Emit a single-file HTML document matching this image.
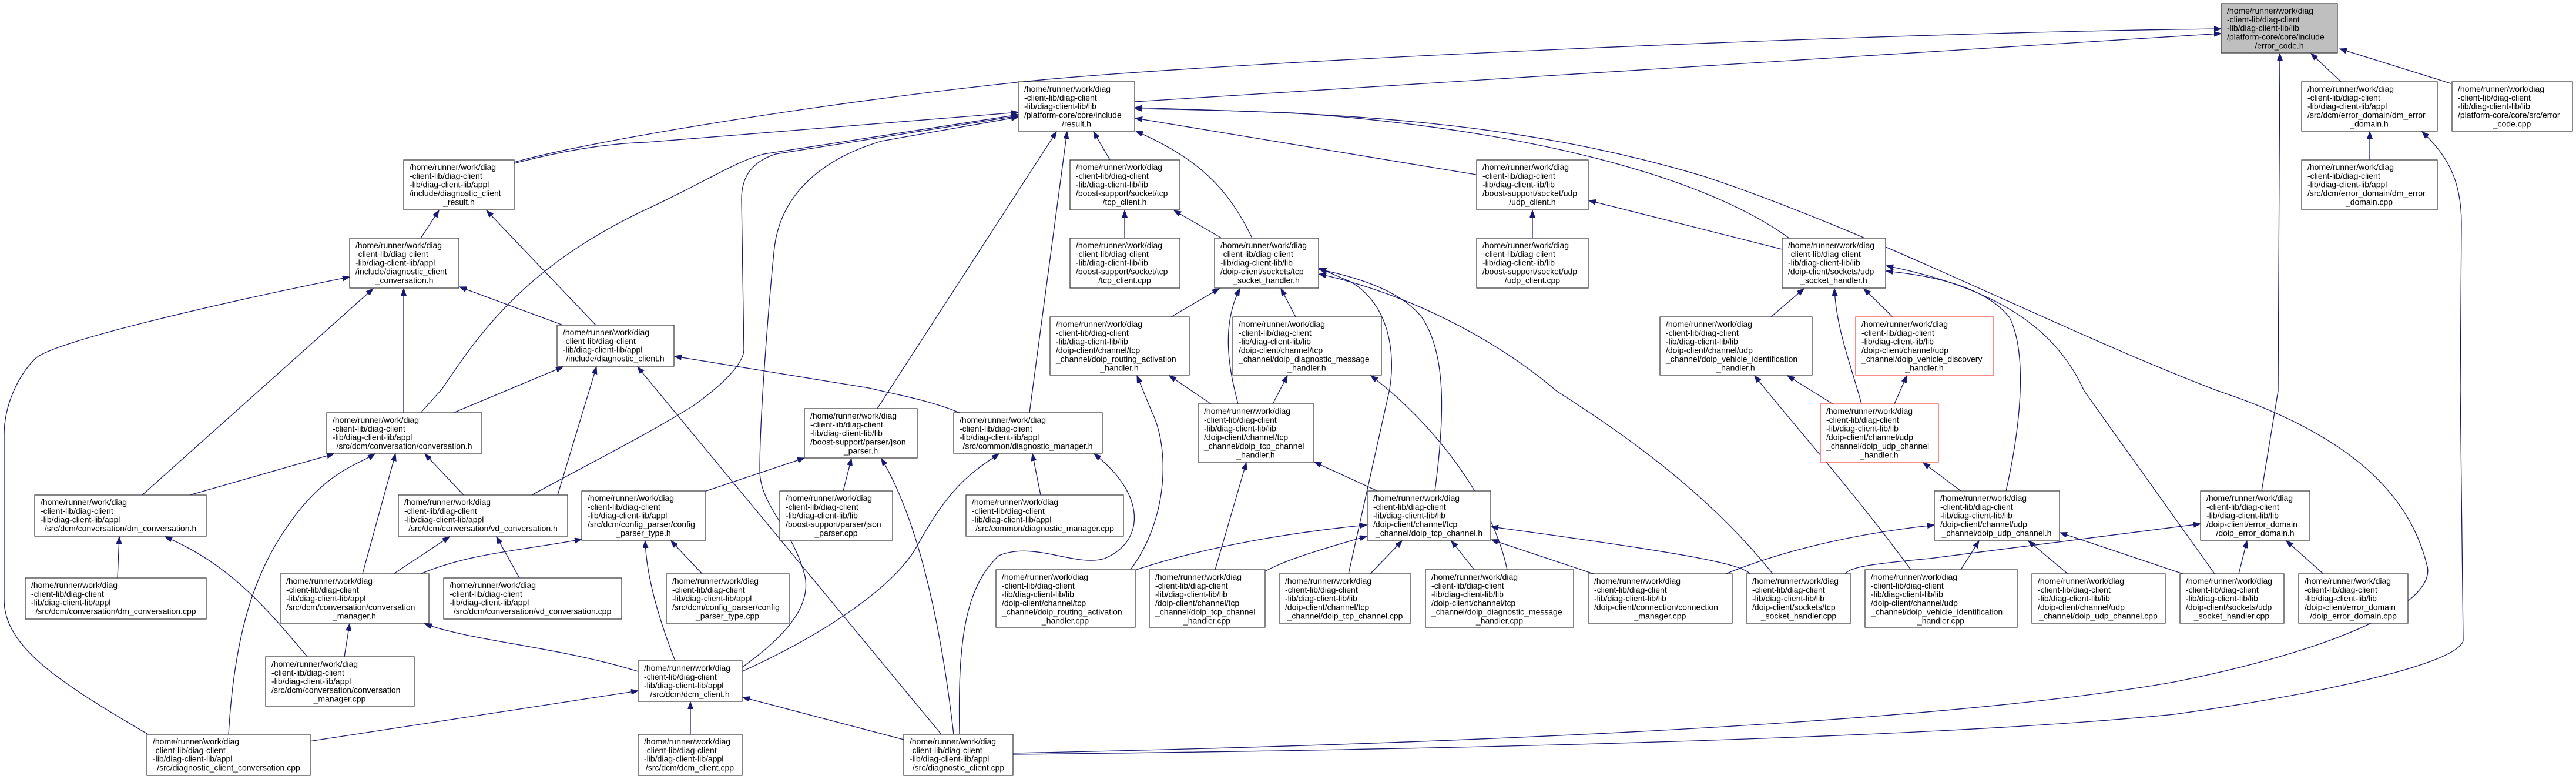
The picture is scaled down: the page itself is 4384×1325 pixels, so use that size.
<!DOCTYPE html>
<html><head><meta charset="utf-8"><style>
html,body{margin:0;padding:0;background:#fff;}
svg{display:block;}
text{font-family:"Liberation Sans",Arial,sans-serif;font-size:14px;fill:#000;}
rect{fill:#fff;stroke:#333;stroke-width:1.2;}
rect.red{stroke:#ff3c3c;}
rect.gray{fill:#bfbfbf;stroke:#333;}
path{fill:none;stroke:#191970;stroke-width:1.3;}
</style></head><body>
<svg width="4384" height="1325" viewBox="0 0 4384 1325" xmlns="http://www.w3.org/2000/svg">
<defs><marker id="a" markerUnits="userSpaceOnUse" markerWidth="13" markerHeight="10" refX="12" refY="4.5" orient="auto"><path d="M0,0 L12,4.5 L0,9 z" style="fill:#191970;stroke:#191970;stroke-width:1"/></marker></defs>
<g marker-end="url(#a)">
<path d="M1931,173 L3780,57"/>
<path d="M875,276 C1000,240 1400,175 1731,140 S3200,55 3780,49"/>
<path d="M3984,139 L3933,91"/>
<path d="M4171,142 L3982,83"/>
<path d="M3849,835 L3877,665 L3880,91"/>
<path d="M875,278 Q1000,245 1100,242 L1733,191"/>
<path d="M716,405 L747,358"/>
<path d="M1014,553 L828,358"/>
<path d="M958,553 L782,488"/>
<path d="M687,702 L687,491"/>
<path d="M242,842 L635,491"/>
<path d="M252,1249 C100,1160 7,1100 7,1020 L7,740 C7,690 30,640 60,610 S400,510 595,471"/>
<path d="M716,702 L752,662 C820,560 900,450 1100,356 C1200,310 1250,275 1300,262 L1733,195"/>
<path d="M905,842 C1000,790 1100,740 1180,690 C1250,640 1266,610 1266,594 L1262,339 C1262,300 1280,275 1320,262 L1733,197"/>
<path d="M1263,1135 C1340,1080 1380,1030 1370,980 C1350,900 1293,860 1293,800 C1293,700 1310,500 1317,430 C1325,330 1400,270 1500,240 L1733,199"/>
<path d="M1493,695 L1798,224"/>
<path d="M1752,702 L1816,224"/>
<path d="M1889,272 L1861,224"/>
<path d="M2131,405 C2090,320 2040,270 1933,223"/>
<path d="M2512,297 L1932,201"/>
<path d="M3045,405 C2900,300 2600,220 2200,192 L1932,183"/>
<path d="M1724,1281 C2500,1265 3300,1230 3700,1160 C4000,1100 4150,1020 4130,960 C4100,840 4000,740 3775,665 C3500,560 3200,400 2900,300 C2600,210 2300,190 1932,185"/>
<path d="M1724,1283 C2500,1275 3300,1255 3700,1215 C3950,1180 4180,1130 4192,1090 L4187,660 L4189,380 C4189,300 4160,260 4122,224"/>
<path d="M4033,272 L4033,224"/>
<path d="M1914,405 L1914,358"/>
<path d="M2079,405 L1998,358"/>
<path d="M2608,405 L2608,358"/>
<path d="M3033,424 L2704,341"/>
<path d="M1993,539 L2075,491"/>
<path d="M2107,687 C2095,640 2075,560 2110,491"/>
<path d="M2205,539 L2180,491"/>
<path d="M2442,835 C2460,700 2460,600 2420,540 C2380,490 2300,470 2245,458"/>
<path d="M2295,976 L2365,662 C2375,600 2365,520 2300,480 L2245,456"/>
<path d="M3017,976 C2900,830 2750,730 2649,665 C2550,580 2400,500 2245,466"/>
<path d="M1924,969 C1990,880 1990,760 1960,700 L1935,639"/>
<path d="M2061,687 L1990,639"/>
<path d="M2166,687 L2191,639"/>
<path d="M2565,969 C2540,850 2440,720 2333,639"/>
<path d="M2068,969 L2121,787"/>
<path d="M2344,835 L2237,786"/>
<path d="M1931,970 C2050,930 2200,905 2326,893"/>
<path d="M2152,972 C2180,958 2200,948 2326,912"/>
<path d="M2332,976 L2386,920"/>
<path d="M2509,969 L2470,920"/>
<path d="M2712,976 L2538,918"/>
<path d="M2979,976 C2960,960 2900,945 2538,896"/>
<path d="M3337,835 L3273,787"/>
<path d="M3119,687 L3042,639"/>
<path d="M3168,687 C3150,620 3125,560 3122,491"/>
<path d="M3224,687 L3245,639"/>
<path d="M3014,539 L3070,491"/>
<path d="M3252,969 C3150,830 3050,720 2986,639"/>
<path d="M3221,539 L3172,491"/>
<path d="M3414,835 C3440,720 3450,600 3420,540 C3380,490 3300,470 3210,461"/>
<path d="M3769,976 L3547,665 C3500,560 3400,490 3210,452"/>
<path d="M3337,969 L3368,920"/>
<path d="M3519,976 L3452,920"/>
<path d="M3715,976 L3506,906"/>
<path d="M2937,976 C3050,930 3180,905 3292,893"/>
<path d="M3140,976 C3150,965 3175,960 3284,950 L3745,891"/>
<path d="M3810,976 L3824,920"/>
<path d="M3954,976 L3891,920"/>
<path d="M200,983 L203,913"/>
<path d="M523,1117 C450,1030 390,960 281,913"/>
<path d="M323,842 L568,772"/>
<path d="M617,976 L673,772"/>
<path d="M789,842 L723,772"/>
<path d="M389,1249 C400,1060 440,960 500,880 C560,800 610,790 638,772"/>
<path d="M670,976 L765,913"/>
<path d="M884,983 L845,913"/>
<path d="M716,976 C800,940 900,935 990,917"/>
<path d="M1195,976 L1142,920"/>
<path d="M1149,1124 C1120,1050 1100,980 1098,920"/>
<path d="M1202,835 L1369,779"/>
<path d="M1435,835 L1449,780"/>
<path d="M1623,1249 C1600,1050 1560,880 1500,780"/>
<path d="M586,1117 L595,1061"/>
<path d="M1086,1142 C950,1100 800,1090 723,1061"/>
<path d="M1175,1249 L1175,1194"/>
<path d="M526,1261 L1086,1175"/>
<path d="M1538,1258 L1264,1186"/>
<path d="M1771,842 L1757,772"/>
<path d="M1263,1142 C1400,1080 1520,1000 1560,930 C1620,820 1660,800 1700,772"/>
<path d="M1633,1249 C1630,1100 1640,1000 1700,945 C1760,920 1830,965 1880,950 C1950,920 1950,840 1862,772"/>
<path d="M1602,1249 L1085,624"/>
<path d="M1633,702 C1580,680 1520,670 1479,660 L1148,606"/>
<path d="M949,842 L1015,624"/>
<path d="M772,702 L958,624"/>
</g>

<g>
<rect class="gray" x="3780" y="6" width="198" height="84"/><text x="3790" y="23"><tspan x="3790">/home/runner/work/diag</tspan><tspan x="3790" dy="14.85">-client-lib/diag-client</tspan><tspan x="3790" dy="14.85">-lib/diag-client-lib/lib</tspan><tspan x="3790" dy="14.85">/platform-core/core/include</tspan><tspan x="3879" dy="14.85" text-anchor="middle">/error_code.h</tspan></text>
<rect x="1733" y="139" width="198" height="84"/><text x="1743" y="156"><tspan x="1743">/home/runner/work/diag</tspan><tspan x="1743" dy="14.85">-client-lib/diag-client</tspan><tspan x="1743" dy="14.85">-lib/diag-client-lib/lib</tspan><tspan x="1743" dy="14.85">/platform-core/core/include</tspan><tspan x="1832" dy="14.85" text-anchor="middle">/result.h</tspan></text>
<rect x="3917" y="139" width="231" height="84"/><text x="3927" y="156"><tspan x="3927">/home/runner/work/diag</tspan><tspan x="3927" dy="14.85">-client-lib/diag-client</tspan><tspan x="3927" dy="14.85">-lib/diag-client-lib/appl</tspan><tspan x="3927" dy="14.85">/src/dcm/error_domain/dm_error</tspan><tspan x="4032" dy="14.85" text-anchor="middle">_domain.h</tspan></text>
<rect x="4173" y="139" width="205" height="84"/><text x="4183" y="156"><tspan x="4183">/home/runner/work/diag</tspan><tspan x="4183" dy="14.85">-client-lib/diag-client</tspan><tspan x="4183" dy="14.85">-lib/diag-client-lib/lib</tspan><tspan x="4183" dy="14.85">/platform-core/core/src/error</tspan><tspan x="4275" dy="14.85" text-anchor="middle">_code.cpp</tspan></text>
<rect x="687" y="272" width="188" height="85"/><text x="697" y="289"><tspan x="697">/home/runner/work/diag</tspan><tspan x="697" dy="14.85">-client-lib/diag-client</tspan><tspan x="697" dy="14.85">-lib/diag-client-lib/appl</tspan><tspan x="697" dy="14.85">/include/diagnostic_client</tspan><tspan x="781" dy="14.85" text-anchor="middle">_result.h</tspan></text>
<rect x="1821" y="272" width="187" height="85"/><text x="1831" y="289"><tspan x="1831">/home/runner/work/diag</tspan><tspan x="1831" dy="14.85">-client-lib/diag-client</tspan><tspan x="1831" dy="14.85">-lib/diag-client-lib/lib</tspan><tspan x="1831" dy="14.85">/boost-support/socket/tcp</tspan><tspan x="1914" dy="14.85" text-anchor="middle">/tcp_client.h</tspan></text>
<rect x="2513" y="272" width="190" height="85"/><text x="2523" y="289"><tspan x="2523">/home/runner/work/diag</tspan><tspan x="2523" dy="14.85">-client-lib/diag-client</tspan><tspan x="2523" dy="14.85">-lib/diag-client-lib/lib</tspan><tspan x="2523" dy="14.85">/boost-support/socket/udp</tspan><tspan x="2608" dy="14.85" text-anchor="middle">/udp_client.h</tspan></text>
<rect x="3917" y="272" width="231" height="85"/><text x="3927" y="289"><tspan x="3927">/home/runner/work/diag</tspan><tspan x="3927" dy="14.85">-client-lib/diag-client</tspan><tspan x="3927" dy="14.85">-lib/diag-client-lib/appl</tspan><tspan x="3927" dy="14.85">/src/dcm/error_domain/dm_error</tspan><tspan x="4032" dy="14.85" text-anchor="middle">_domain.cpp</tspan></text>
<rect x="595" y="405" width="186" height="85"/><text x="605" y="422"><tspan x="605">/home/runner/work/diag</tspan><tspan x="605" dy="14.85">-client-lib/diag-client</tspan><tspan x="605" dy="14.85">-lib/diag-client-lib/appl</tspan><tspan x="605" dy="14.85">/include/diagnostic_client</tspan><tspan x="688" dy="14.85" text-anchor="middle">_conversation.h</tspan></text>
<rect x="1821" y="405" width="187" height="85"/><text x="1831" y="422"><tspan x="1831">/home/runner/work/diag</tspan><tspan x="1831" dy="14.85">-client-lib/diag-client</tspan><tspan x="1831" dy="14.85">-lib/diag-client-lib/lib</tspan><tspan x="1831" dy="14.85">/boost-support/socket/tcp</tspan><tspan x="1914" dy="14.85" text-anchor="middle">/tcp_client.cpp</tspan></text>
<rect x="2067" y="405" width="177" height="85"/><text x="2077" y="422"><tspan x="2077">/home/runner/work/diag</tspan><tspan x="2077" dy="14.85">-client-lib/diag-client</tspan><tspan x="2077" dy="14.85">-lib/diag-client-lib/lib</tspan><tspan x="2077" dy="14.85">/doip-client/sockets/tcp</tspan><tspan x="2155" dy="14.85" text-anchor="middle">_socket_handler.h</tspan></text>
<rect x="2513" y="405" width="190" height="85"/><text x="2523" y="422"><tspan x="2523">/home/runner/work/diag</tspan><tspan x="2523" dy="14.85">-client-lib/diag-client</tspan><tspan x="2523" dy="14.85">-lib/diag-client-lib/lib</tspan><tspan x="2523" dy="14.85">/boost-support/socket/udp</tspan><tspan x="2608" dy="14.85" text-anchor="middle">/udp_client.cpp</tspan></text>
<rect x="3033" y="405" width="176" height="85"/><text x="3043" y="422"><tspan x="3043">/home/runner/work/diag</tspan><tspan x="3043" dy="14.85">-client-lib/diag-client</tspan><tspan x="3043" dy="14.85">-lib/diag-client-lib/lib</tspan><tspan x="3043" dy="14.85">/doip-client/sockets/udp</tspan><tspan x="3121" dy="14.85" text-anchor="middle">_socket_handler.h</tspan></text>
<rect x="948" y="553" width="199" height="70"/><text x="958" y="570"><tspan x="958">/home/runner/work/diag</tspan><tspan x="958" dy="14.85">-client-lib/diag-client</tspan><tspan x="958" dy="14.85">-lib/diag-client-lib/appl</tspan><tspan x="1047" dy="14.85" text-anchor="middle">/include/diagnostic_client.h</tspan></text>
<rect x="1787" y="539" width="237" height="99"/><text x="1797" y="556"><tspan x="1797">/home/runner/work/diag</tspan><tspan x="1797" dy="14.85">-client-lib/diag-client</tspan><tspan x="1797" dy="14.85">-lib/diag-client-lib/lib</tspan><tspan x="1797" dy="14.85">/doip-client/channel/tcp</tspan><tspan x="1797" dy="14.85">_channel/doip_routing_activation</tspan><tspan x="1905" dy="14.85" text-anchor="middle">_handler.h</tspan></text>
<rect x="2098" y="539" width="253" height="99"/><text x="2108" y="556"><tspan x="2108">/home/runner/work/diag</tspan><tspan x="2108" dy="14.85">-client-lib/diag-client</tspan><tspan x="2108" dy="14.85">-lib/diag-client-lib/lib</tspan><tspan x="2108" dy="14.85">/doip-client/channel/tcp</tspan><tspan x="2108" dy="14.85">_channel/doip_diagnostic_message</tspan><tspan x="2224" dy="14.85" text-anchor="middle">_handler.h</tspan></text>
<rect x="2825" y="539" width="259" height="99"/><text x="2835" y="556"><tspan x="2835">/home/runner/work/diag</tspan><tspan x="2835" dy="14.85">-client-lib/diag-client</tspan><tspan x="2835" dy="14.85">-lib/diag-client-lib/lib</tspan><tspan x="2835" dy="14.85">/doip-client/channel/udp</tspan><tspan x="2835" dy="14.85">_channel/doip_vehicle_identification</tspan><tspan x="2954" dy="14.85" text-anchor="middle">_handler.h</tspan></text>
<rect class="red" x="3158" y="539" width="235" height="99"/><text x="3168" y="556"><tspan x="3168">/home/runner/work/diag</tspan><tspan x="3168" dy="14.85">-client-lib/diag-client</tspan><tspan x="3168" dy="14.85">-lib/diag-client-lib/lib</tspan><tspan x="3168" dy="14.85">/doip-client/channel/udp</tspan><tspan x="3168" dy="14.85">_channel/doip_vehicle_discovery</tspan><tspan x="3275" dy="14.85" text-anchor="middle">_handler.h</tspan></text>
<rect x="556" y="702" width="264" height="69"/><text x="566" y="719"><tspan x="566">/home/runner/work/diag</tspan><tspan x="566" dy="14.85">-client-lib/diag-client</tspan><tspan x="566" dy="14.85">-lib/diag-client-lib/appl</tspan><tspan x="688" dy="14.85" text-anchor="middle">/src/dcm/conversation/conversation.h</tspan></text>
<rect x="1369" y="695" width="192" height="84"/><text x="1379" y="712"><tspan x="1379">/home/runner/work/diag</tspan><tspan x="1379" dy="14.85">-client-lib/diag-client</tspan><tspan x="1379" dy="14.85">-lib/diag-client-lib/lib</tspan><tspan x="1379" dy="14.85">/boost-support/parser/json</tspan><tspan x="1465" dy="14.85" text-anchor="middle">_parser.h</tspan></text>
<rect x="1623" y="702" width="253" height="69"/><text x="1633" y="719"><tspan x="1633">/home/runner/work/diag</tspan><tspan x="1633" dy="14.85">-client-lib/diag-client</tspan><tspan x="1633" dy="14.85">-lib/diag-client-lib/appl</tspan><tspan x="1749" dy="14.85" text-anchor="middle">/src/common/diagnostic_manager.h</tspan></text>
<rect x="2039" y="687" width="197" height="99"/><text x="2049" y="704"><tspan x="2049">/home/runner/work/diag</tspan><tspan x="2049" dy="14.85">-client-lib/diag-client</tspan><tspan x="2049" dy="14.85">-lib/diag-client-lib/lib</tspan><tspan x="2049" dy="14.85">/doip-client/channel/tcp</tspan><tspan x="2049" dy="14.85">_channel/doip_tcp_channel</tspan><tspan x="2137" dy="14.85" text-anchor="middle">_handler.h</tspan></text>
<rect class="red" x="3098" y="687" width="201" height="99"/><text x="3108" y="704"><tspan x="3108">/home/runner/work/diag</tspan><tspan x="3108" dy="14.85">-client-lib/diag-client</tspan><tspan x="3108" dy="14.85">-lib/diag-client-lib/lib</tspan><tspan x="3108" dy="14.85">/doip-client/channel/udp</tspan><tspan x="3108" dy="14.85">_channel/doip_udp_channel</tspan><tspan x="3198" dy="14.85" text-anchor="middle">_handler.h</tspan></text>
<rect x="59" y="842" width="292" height="70"/><text x="69" y="859"><tspan x="69">/home/runner/work/diag</tspan><tspan x="69" dy="14.85">-client-lib/diag-client</tspan><tspan x="69" dy="14.85">-lib/diag-client-lib/appl</tspan><tspan x="205" dy="14.85" text-anchor="middle">/src/dcm/conversation/dm_conversation.h</tspan></text>
<rect x="678" y="842" width="288" height="70"/><text x="688" y="859"><tspan x="688">/home/runner/work/diag</tspan><tspan x="688" dy="14.85">-client-lib/diag-client</tspan><tspan x="688" dy="14.85">-lib/diag-client-lib/appl</tspan><tspan x="822" dy="14.85" text-anchor="middle">/src/dcm/conversation/vd_conversation.h</tspan></text>
<rect x="990" y="835" width="211" height="84"/><text x="1000" y="852"><tspan x="1000">/home/runner/work/diag</tspan><tspan x="1000" dy="14.85">-client-lib/diag-client</tspan><tspan x="1000" dy="14.85">-lib/diag-client-lib/appl</tspan><tspan x="1000" dy="14.85">/src/dcm/config_parser/config</tspan><tspan x="1095" dy="14.85" text-anchor="middle">_parser_type.h</tspan></text>
<rect x="1327" y="835" width="192" height="84"/><text x="1337" y="852"><tspan x="1337">/home/runner/work/diag</tspan><tspan x="1337" dy="14.85">-client-lib/diag-client</tspan><tspan x="1337" dy="14.85">-lib/diag-client-lib/lib</tspan><tspan x="1337" dy="14.85">/boost-support/parser/json</tspan><tspan x="1423" dy="14.85" text-anchor="middle">_parser.cpp</tspan></text>
<rect x="1644" y="842" width="268" height="70"/><text x="1654" y="859"><tspan x="1654">/home/runner/work/diag</tspan><tspan x="1654" dy="14.85">-client-lib/diag-client</tspan><tspan x="1654" dy="14.85">-lib/diag-client-lib/appl</tspan><tspan x="1778" dy="14.85" text-anchor="middle">/src/common/diagnostic_manager.cpp</tspan></text>
<rect x="2327" y="835" width="210" height="84"/><text x="2337" y="852"><tspan x="2337">/home/runner/work/diag</tspan><tspan x="2337" dy="14.85">-client-lib/diag-client</tspan><tspan x="2337" dy="14.85">-lib/diag-client-lib/lib</tspan><tspan x="2337" dy="14.85">/doip-client/channel/tcp</tspan><tspan x="2432" dy="14.85" text-anchor="middle">_channel/doip_tcp_channel.h</tspan></text>
<rect x="3292" y="835" width="213" height="84"/><text x="3302" y="852"><tspan x="3302">/home/runner/work/diag</tspan><tspan x="3302" dy="14.85">-client-lib/diag-client</tspan><tspan x="3302" dy="14.85">-lib/diag-client-lib/lib</tspan><tspan x="3302" dy="14.85">/doip-client/channel/udp</tspan><tspan x="3398" dy="14.85" text-anchor="middle">_channel/doip_udp_channel.h</tspan></text>
<rect x="3745" y="835" width="186" height="84"/><text x="3755" y="852"><tspan x="3755">/home/runner/work/diag</tspan><tspan x="3755" dy="14.85">-client-lib/diag-client</tspan><tspan x="3755" dy="14.85">-lib/diag-client-lib/lib</tspan><tspan x="3755" dy="14.85">/doip-client/error_domain</tspan><tspan x="3838" dy="14.85" text-anchor="middle">/doip_error_domain.h</tspan></text>
<rect x="43" y="983" width="308" height="70"/><text x="53" y="1000"><tspan x="53">/home/runner/work/diag</tspan><tspan x="53" dy="14.85">-client-lib/diag-client</tspan><tspan x="53" dy="14.85">-lib/diag-client-lib/appl</tspan><tspan x="197" dy="14.85" text-anchor="middle">/src/dcm/conversation/dm_conversation.cpp</tspan></text>
<rect x="477" y="976" width="253" height="84"/><text x="487" y="993"><tspan x="487">/home/runner/work/diag</tspan><tspan x="487" dy="14.85">-client-lib/diag-client</tspan><tspan x="487" dy="14.85">-lib/diag-client-lib/appl</tspan><tspan x="487" dy="14.85">/src/dcm/conversation/conversation</tspan><tspan x="603" dy="14.85" text-anchor="middle">_manager.h</tspan></text>
<rect x="755" y="983" width="303" height="70"/><text x="765" y="1000"><tspan x="765">/home/runner/work/diag</tspan><tspan x="765" dy="14.85">-client-lib/diag-client</tspan><tspan x="765" dy="14.85">-lib/diag-client-lib/appl</tspan><tspan x="906" dy="14.85" text-anchor="middle">/src/dcm/conversation/vd_conversation.cpp</tspan></text>
<rect x="1134" y="976" width="209" height="84"/><text x="1144" y="993"><tspan x="1144">/home/runner/work/diag</tspan><tspan x="1144" dy="14.85">-client-lib/diag-client</tspan><tspan x="1144" dy="14.85">-lib/diag-client-lib/appl</tspan><tspan x="1144" dy="14.85">/src/dcm/config_parser/config</tspan><tspan x="1238" dy="14.85" text-anchor="middle">_parser_type.cpp</tspan></text>
<rect x="1695" y="969" width="237" height="98"/><text x="1705" y="986"><tspan x="1705">/home/runner/work/diag</tspan><tspan x="1705" dy="14.85">-client-lib/diag-client</tspan><tspan x="1705" dy="14.85">-lib/diag-client-lib/lib</tspan><tspan x="1705" dy="14.85">/doip-client/channel/tcp</tspan><tspan x="1705" dy="14.85">_channel/doip_routing_activation</tspan><tspan x="1813" dy="14.85" text-anchor="middle">_handler.cpp</tspan></text>
<rect x="1956" y="969" width="197" height="98"/><text x="1966" y="986"><tspan x="1966">/home/runner/work/diag</tspan><tspan x="1966" dy="14.85">-client-lib/diag-client</tspan><tspan x="1966" dy="14.85">-lib/diag-client-lib/lib</tspan><tspan x="1966" dy="14.85">/doip-client/channel/tcp</tspan><tspan x="1966" dy="14.85">_channel/doip_tcp_channel</tspan><tspan x="2054" dy="14.85" text-anchor="middle">_handler.cpp</tspan></text>
<rect x="2177" y="976" width="224" height="84"/><text x="2187" y="993"><tspan x="2187">/home/runner/work/diag</tspan><tspan x="2187" dy="14.85">-client-lib/diag-client</tspan><tspan x="2187" dy="14.85">-lib/diag-client-lib/lib</tspan><tspan x="2187" dy="14.85">/doip-client/channel/tcp</tspan><tspan x="2289" dy="14.85" text-anchor="middle">_channel/doip_tcp_channel.cpp</tspan></text>
<rect x="2426" y="969" width="252" height="98"/><text x="2436" y="986"><tspan x="2436">/home/runner/work/diag</tspan><tspan x="2436" dy="14.85">-client-lib/diag-client</tspan><tspan x="2436" dy="14.85">-lib/diag-client-lib/lib</tspan><tspan x="2436" dy="14.85">/doip-client/channel/tcp</tspan><tspan x="2436" dy="14.85">_channel/doip_diagnostic_message</tspan><tspan x="2552" dy="14.85" text-anchor="middle">_handler.cpp</tspan></text>
<rect x="2703" y="976" width="245" height="84"/><text x="2713" y="993"><tspan x="2713">/home/runner/work/diag</tspan><tspan x="2713" dy="14.85">-client-lib/diag-client</tspan><tspan x="2713" dy="14.85">-lib/diag-client-lib/lib</tspan><tspan x="2713" dy="14.85">/doip-client/connection/connection</tspan><tspan x="2825" dy="14.85" text-anchor="middle">_manager.cpp</tspan></text>
<rect x="2972" y="976" width="178" height="84"/><text x="2982" y="993"><tspan x="2982">/home/runner/work/diag</tspan><tspan x="2982" dy="14.85">-client-lib/diag-client</tspan><tspan x="2982" dy="14.85">-lib/diag-client-lib/lib</tspan><tspan x="2982" dy="14.85">/doip-client/sockets/tcp</tspan><tspan x="3061" dy="14.85" text-anchor="middle">_socket_handler.cpp</tspan></text>
<rect x="3174" y="969" width="259" height="98"/><text x="3184" y="986"><tspan x="3184">/home/runner/work/diag</tspan><tspan x="3184" dy="14.85">-client-lib/diag-client</tspan><tspan x="3184" dy="14.85">-lib/diag-client-lib/lib</tspan><tspan x="3184" dy="14.85">/doip-client/channel/udp</tspan><tspan x="3184" dy="14.85">_channel/doip_vehicle_identification</tspan><tspan x="3303" dy="14.85" text-anchor="middle">_handler.cpp</tspan></text>
<rect x="3458" y="976" width="227" height="84"/><text x="3468" y="993"><tspan x="3468">/home/runner/work/diag</tspan><tspan x="3468" dy="14.85">-client-lib/diag-client</tspan><tspan x="3468" dy="14.85">-lib/diag-client-lib/lib</tspan><tspan x="3468" dy="14.85">/doip-client/channel/udp</tspan><tspan x="3571" dy="14.85" text-anchor="middle">_channel/doip_udp_channel.cpp</tspan></text>
<rect x="3710" y="976" width="177" height="84"/><text x="3720" y="993"><tspan x="3720">/home/runner/work/diag</tspan><tspan x="3720" dy="14.85">-client-lib/diag-client</tspan><tspan x="3720" dy="14.85">-lib/diag-client-lib/lib</tspan><tspan x="3720" dy="14.85">/doip-client/sockets/udp</tspan><tspan x="3798" dy="14.85" text-anchor="middle">_socket_handler.cpp</tspan></text>
<rect x="3912" y="976" width="186" height="84"/><text x="3922" y="993"><tspan x="3922">/home/runner/work/diag</tspan><tspan x="3922" dy="14.85">-client-lib/diag-client</tspan><tspan x="3922" dy="14.85">-lib/diag-client-lib/lib</tspan><tspan x="3922" dy="14.85">/doip-client/error_domain</tspan><tspan x="4005" dy="14.85" text-anchor="middle">/doip_error_domain.cpp</tspan></text>
<rect x="452" y="1117" width="253" height="84"/><text x="462" y="1134"><tspan x="462">/home/runner/work/diag</tspan><tspan x="462" dy="14.85">-client-lib/diag-client</tspan><tspan x="462" dy="14.85">-lib/diag-client-lib/appl</tspan><tspan x="462" dy="14.85">/src/dcm/conversation/conversation</tspan><tspan x="578" dy="14.85" text-anchor="middle">_manager.cpp</tspan></text>
<rect x="1086" y="1124" width="177" height="69"/><text x="1096" y="1141"><tspan x="1096">/home/runner/work/diag</tspan><tspan x="1096" dy="14.85">-client-lib/diag-client</tspan><tspan x="1096" dy="14.85">-lib/diag-client-lib/appl</tspan><tspan x="1174" dy="14.85" text-anchor="middle">/src/dcm/dcm_client.h</tspan></text>
<rect x="250" y="1249" width="278" height="70"/><text x="260" y="1266"><tspan x="260">/home/runner/work/diag</tspan><tspan x="260" dy="14.85">-client-lib/diag-client</tspan><tspan x="260" dy="14.85">-lib/diag-client-lib/appl</tspan><tspan x="389" dy="14.85" text-anchor="middle">/src/diagnostic_client_conversation.cpp</tspan></text>
<rect x="1086" y="1249" width="177" height="70"/><text x="1096" y="1266"><tspan x="1096">/home/runner/work/diag</tspan><tspan x="1096" dy="14.85">-client-lib/diag-client</tspan><tspan x="1096" dy="14.85">-lib/diag-client-lib/appl</tspan><tspan x="1174" dy="14.85" text-anchor="middle">/src/dcm/dcm_client.cpp</tspan></text>
<rect x="1538" y="1249" width="186" height="70"/><text x="1548" y="1266"><tspan x="1548">/home/runner/work/diag</tspan><tspan x="1548" dy="14.85">-client-lib/diag-client</tspan><tspan x="1548" dy="14.85">-lib/diag-client-lib/appl</tspan><tspan x="1631" dy="14.85" text-anchor="middle">/src/diagnostic_client.cpp</tspan></text>
</g>
</svg>
</body></html>
